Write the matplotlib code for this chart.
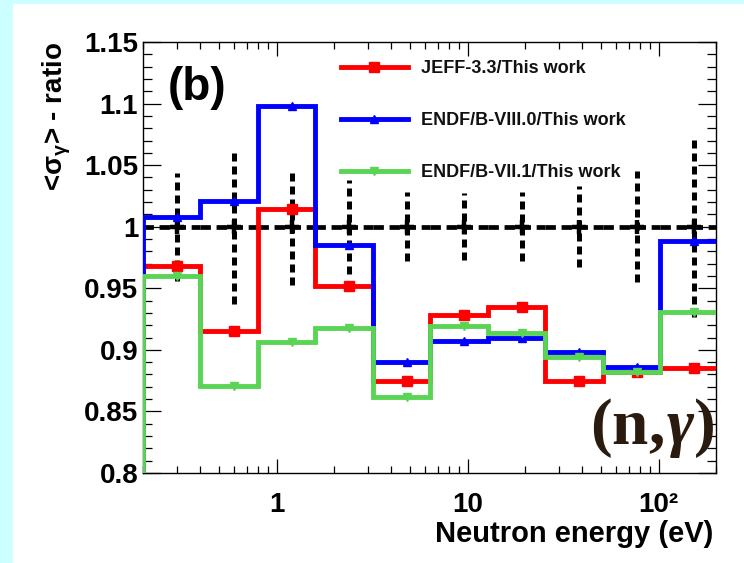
import matplotlib
matplotlib.use("Agg")
import matplotlib.pyplot as plt
from matplotlib.patches import Rectangle
from matplotlib.ticker import FixedLocator, FixedFormatter, LogLocator, NullFormatter

# ---------------- data ----------------
edges = [0.2, 0.4, 0.8, 1.6, 3.2, 6.4, 12.8, 25.6, 51.2, 102.4, 204.8]
centers = [0.3, 0.6, 1.2, 2.4, 4.8, 9.6, 19.2, 38.4, 76.8, 153.6]
jeff33 = [0.968, 0.915, 1.014, 0.952, 0.875, 0.928, 0.935, 0.875, 0.882, 0.885]
endf80 = [1.008, 1.021, 1.098, 0.985, 0.890, 0.907, 0.910, 0.898, 0.886, 0.988]
endf71 = [0.960, 0.871, 0.906, 0.918, 0.862, 0.919, 0.914, 0.894, 0.882, 0.931]
this_work = [1.0] * 10
this_err = [0.044, 0.063, 0.047, 0.038, 0.028, 0.027, 0.028, 0.033, 0.045, 0.073]
labels = ["JEFF-3.3/This work", "ENDF/B-VIII.0/This work", "ENDF/B-VII.1/This work"]
yticks = [0.8, 0.85, 0.9, 0.95, 1.0, 1.05, 1.1, 1.15]
ytick_labels = ["0.8", "0.85", "0.9", "0.95", "1", "1.05", "1.1", "1.15"]
xticks = [1, 10, 100]
xtick_labels = ["1", "10", "10\u00b2"]

plt.rcParams["font.family"] = ["Liberation Sans", "DejaVu Sans"]
plt.rcParams["mathtext.fontset"] = "custom"
plt.rcParams["mathtext.rm"] = "Liberation Serif:bold"
plt.rcParams["mathtext.it"] = "Liberation Serif:italic:bold"
plt.rcParams["mathtext.bf"] = "Liberation Serif:bold"

W, H = 744, 563
fig = plt.figure(figsize=(W / 100, H / 100), dpi=100)
fig.patch.set_facecolor("#ccffff")
fig.patches.append(Rectangle((13 / W, 0), 1 - 13 / W, 1 - 4 / H, transform=fig.transFigure,
                             facecolor="white", edgecolor="none", zorder=-5))

L, R, T, B = 143, 716, 42, 473
ax = fig.add_axes([L / W, 1 - B / H, (R - L) / W, (B - T) / H])
ax.set_facecolor("white")

red, blue, green = "#ff0000", "#0000ff", "#59d454"
lw = 3.5

# reference points (this work) with dashed error bars
ax.hlines(this_work, edges[:-1], edges[1:], colors="black", linewidth=3.4,
          linestyles=[(0, (2.2, 1.2))], zorder=2)
ax.vlines(centers, [v - e for v, e in zip(this_work, this_err)],
          [v + e for v, e in zip(this_work, this_err)], colors="black", linewidth=3.6,
          linestyles=[(0, (1.6, 1.0))], zorder=2)
ax.plot(centers, this_work, linestyle="none", marker="+", markersize=10, mew=3.2, color="black", zorder=2)

# histograms
series = [(jeff33, red, "s", 6.5), (endf80, blue, "^", 5.5), (endf71, green, "v", 5.5)]
handles = []
for i, (vals, col, mk, ms) in enumerate(series):
    ax.stairs(vals, edges, baseline=0, color=col, linewidth=lw, zorder=3 + i)
    ax.plot(centers, vals, linestyle="none", marker=mk, markersize=ms, color=col, zorder=3 + i)
    hl, = ax.plot([], [], color=col, linewidth=lw, marker=mk, markersize=ms)
    handles.append(hl)

ax.set_xscale("log")
ax.set_xlim(0.2, 200)
ax.set_ylim(0.8, 1.15)

ax.yaxis.set_major_locator(FixedLocator(yticks))
ax.yaxis.set_major_formatter(FixedFormatter(ytick_labels))
ax.yaxis.set_minor_locator(FixedLocator([0.8 + 0.01 * k for k in range(36)]))
ax.xaxis.set_major_locator(FixedLocator(xticks))
ax.xaxis.set_major_formatter(FixedFormatter(xtick_labels))
ax.xaxis.set_minor_locator(LogLocator(base=10, subs=[2, 3, 4, 5, 6, 7, 8, 9], numticks=20))
ax.xaxis.set_minor_formatter(NullFormatter())

ax.tick_params(axis="both", which="both", direction="in", top=True, right=True, width=0.9, colors="black")
ax.tick_params(axis="y", which="major", length=13, pad=3.5, labelsize=20)
ax.tick_params(axis="y", which="minor", length=6.5)
ax.tick_params(axis="x", which="major", length=10, pad=14, labelsize=20)
ax.tick_params(axis="x", which="minor", length=5)
for lab in ax.get_xticklabels() + ax.get_yticklabels():
    lab.set_fontweight("bold")
for s in ax.spines.values():
    s.set_linewidth(1.0)

ax.set_xlabel("Neutron energy (eV)", fontsize=21, fontweight="bold", ha="right", va="top")
ax.xaxis.set_label_coords(0.995, -0.11)
ax.set_ylabel(r"<$\mathregular{\sigma_{\gamma}}$> - ratio", fontsize=20, fontweight="bold",
              ha="right", va="center", math_fontfamily="dejavusans")
ax.yaxis.set_label_coords(-0.15, 1.0)

leg = ax.legend(handles, labels, loc="upper left", bbox_to_anchor=(341 / W, 1 - 60 / H),
                bbox_transform=fig.transFigure, frameon=False, fontsize=13, numpoints=1,
                handlelength=3.7, handletextpad=0.75, labelspacing=1.95, borderpad=0,
                borderaxespad=0)
for t in leg.get_texts():
    t.set_fontweight("bold")
    t.set_color("#111111")

fig.text(168 / W, 1 - 88 / H, "(b)", fontsize=33, fontweight="bold", ha="left", va="center")
fig.text(652 / W, 1 - 428 / H, r"$\mathrm{(n,}\!\gamma\mathrm{)}$", fontsize=47, color="#2a1b0e",
         ha="center", va="center", math_fontfamily="custom")

fig.savefig("out.png", dpi=100, facecolor=fig.get_facecolor())
